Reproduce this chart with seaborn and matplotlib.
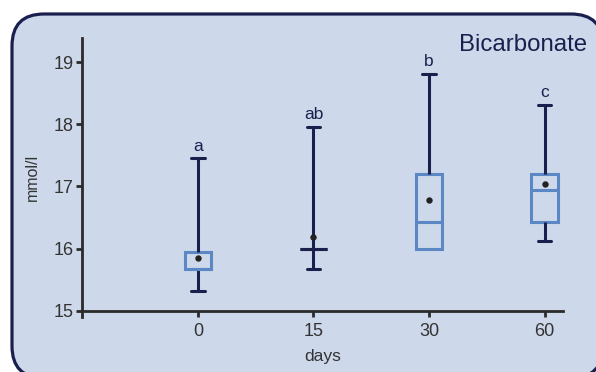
import numpy as np
import pandas as pd
import matplotlib
matplotlib.use("Agg")
import matplotlib.pyplot as plt
from matplotlib.patches import FancyBboxPatch
import seaborn as sns

# values
days = ["0", "15", "30", "60"]
whisker_low = [15.32, 15.67, 16.00, 16.12]
q1 = [15.68, 16.00, 16.00, 16.43]
median = [15.68, 16.00, 16.43, 16.95]
q3 = [15.95, 16.00, 17.20, 17.20]
whisker_high = [17.45, 17.96, 18.81, 18.31]
means = [15.85, 16.19, 16.78, 17.04]
letters = ["a", "ab", "b", "c"]

navy = "#1b1f4d"
box_blue = "#5b87c4"
panel = "#cdd9ea"
axis_col = "#2b2b2b"

# five points per day give exactly these quartiles with whis=(0, 100)
rows = []
for i, d in enumerate(days):
    for v in [whisker_low[i], q1[i], median[i], q3[i], whisker_high[i]]:
        rows.append({"day": d, "value": v})
df = pd.DataFrame(rows)
mean_df = pd.DataFrame({"day": days, "mean": means})

sns.set_style("white")
plt.rcParams["font.family"] = ["Liberation Sans", "DejaVu Sans"]

fig = plt.figure(figsize=(5.96, 3.72), dpi=100)
fig.patch.set_facecolor("white")
# rounded panel behind everything (pixel coordinates)
fig.patches.append(FancyBboxPatch((12, -6), 591, 364,
                                  boxstyle="round,pad=0,rounding_size=32",
                                  transform=None, facecolor=panel,
                                  edgecolor=navy, linewidth=2.3, zorder=-1))

ax = fig.add_axes([0.1376, 0.1478, 0.807, 0.75])
ax.set_facecolor("none")

sns.boxplot(data=df, x="day", y="value", order=days, ax=ax, width=0.23,
            whis=(0, 100), fill=True, linecolor=navy, linewidth=2.2,
            boxprops=dict(facecolor="none", edgecolor=box_blue, linewidth=2.2),
            medianprops=dict(color=box_blue, linewidth=2.2),
            whiskerprops=dict(color=navy, linewidth=2.2),
            capprops=dict(color=navy, linewidth=2.2))

# collapsed box for day 15 is drawn in navy
for p in ax.patches:
    ext = p.get_path().get_extents()
    if ext.height < 1e-6:
        p.set_edgecolor(navy)
for ln in ax.lines:
    y = np.asarray(ln.get_ydata(), dtype=float)
    x = np.asarray(ln.get_xdata(), dtype=float)
    if len(y) != 2 or y[0] != y[1]:
        continue
    pos = int(round(x.mean()))
    if pos == 1 and y[0] == median[1] and ln.get_color() != navy:
        ln.set_color(navy)
    # no cap where the lower whisker has zero length (day 30)
    if ln.get_color() == navy and q1[pos] != median[pos] and (
            y[0] == whisker_low[pos] == q1[pos]):
        ln.set_visible(False)

sns.stripplot(data=mean_df, x="day", y="mean", order=days, ax=ax,
              jitter=False, color="#222222", size=4.6, zorder=5)

for i, lab in enumerate(letters):
    ax.annotate(lab, (i, whisker_high[i]), xytext=(0, 5.5), textcoords="offset points",
                ha="center", va="baseline", fontsize=12.5, color=navy)

ax.set_xlim(-1.004, 3.16)
ax.set_ylim(14.9, 19.386)
ax.set_yticks([15, 16, 17, 18, 19])
ax.spines["top"].set_visible(False)
ax.spines["right"].set_visible(False)
ax.spines["bottom"].set_position(("data", 15))
for s in ["left", "bottom"]:
    ax.spines[s].set_color(axis_col)
    ax.spines[s].set_linewidth(2.0)
ax.tick_params(axis="both", bottom=True, left=True, direction="out", length=4,
               width=2.0, color=axis_col, labelsize=13, labelcolor="#333333", pad=5)
ax.tick_params(axis="y", pad=2)
ax.set_xlabel("days", fontsize=12.5, color="#333333", labelpad=6)
ax.set_ylabel("mmol/l", fontsize=11.5, color="#333333", labelpad=10)

fig.text(587 / 596, 1 - 45 / 372, "Bicarbonate", ha="right", va="center",
         fontsize=17.3, color=navy)

fig.savefig("out.png", dpi=100)
